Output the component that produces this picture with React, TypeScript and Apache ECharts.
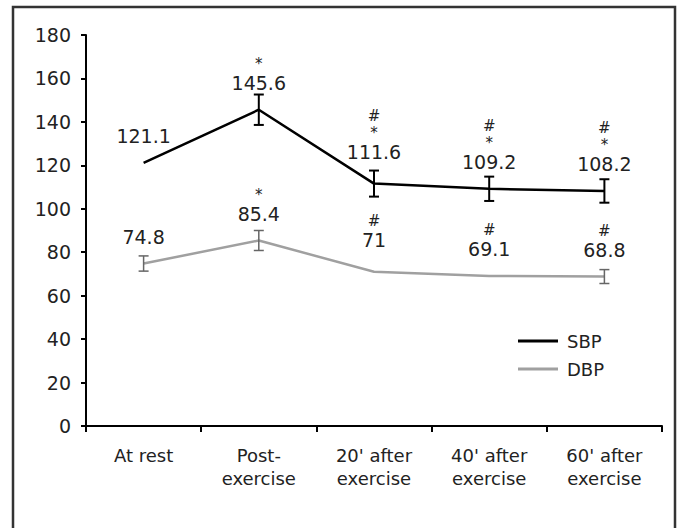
import React, { useEffect, useRef } from "react";
import * as echarts from "echarts";

const categories = ["At rest", "Post-\nexercise", "20' after\nexercise", "40' after\nexercise", "60' after\nexercise"];
const sbpValues = [121.1, 145.6, 111.6, 109.2, 108.2];
const dbpValues = [74.8, 85.4, 71, 69.1, 68.8];
const sbpMarks = ["", "*", "#\n*", "#\n*", "#\n*"];
const dbpMarks = ["", "*", "#", "#", "#"];
const sbpErr = [0, 7, 6, 5.6, 5.4];
const dbpErr = [3.5, 4.6, 0, 0, 3.2];
const yTicks = { min: 0, max: 180, interval: 20 };

const FONT = "DejaVu Sans";

function errData(values: number[], errs: number[]) {
  const out: number[][] = [];
  values.forEach((v, i) => {
    if (errs[i] > 0) out.push([i, v - errs[i], v + errs[i]]);
  });
  return out;
}

function errSeries(name: string, values: number[], errs: number[], color: string, width: number) {
  return {
    type: "custom",
    name: name + "-err",
    z: 5,
    silent: true,
    data: errData(values, errs),
    renderItem: (params: any, api: any) => {
      const x = api.value(0);
      const lo = api.coord([x, api.value(1)]);
      const hi = api.coord([x, api.value(2)]);
      const w = 5;
      const style = { stroke: color, lineWidth: width };
      return {
        type: "group",
        children: [
          { type: "line", shape: { x1: hi[0], y1: hi[1], x2: lo[0], y2: lo[1] }, style },
          { type: "line", shape: { x1: hi[0] - w, y1: hi[1], x2: hi[0] + w, y2: hi[1] }, style },
          { type: "line", shape: { x1: lo[0] - w, y1: lo[1], x2: lo[0] + w, y2: lo[1] }, style },
        ],
      };
    },
  };
}

function labelFormatter(marks: string[]) {
  return (p: any) => {
    const m = marks[p.dataIndex];
    const val = "{v|" + p.value + "}";
    if (!m) return val;
    return m.split("\n").map((s) => "{m|" + s + "}").join("\n") + "\n" + val;
  };
}

// small per-point vertical nudges of the data labels (layout only)
const labelNudge = [0, 0, -5, 0, 0];

function lineData(values: number[]) {
  return values.map((v, i) => (labelNudge[i] ? { value: v, label: { offset: [0, labelNudge[i]] } } : v));
}

export default function App() {
  const ref = useRef<HTMLDivElement>(null);
  useEffect(() => {
    if (!ref.current) return;
    const chart = echarts.init(ref.current, null, { renderer: "svg" });
    const rich = {
      v: { fontFamily: FONT, fontSize: 19, lineHeight: 21, color: "#222" },
      m: { fontFamily: FONT, fontSize: 15, lineHeight: 17, color: "#222" },
    };
    chart.setOption({
      animation: false,
      backgroundColor: "#fff",
      textStyle: { fontFamily: FONT },
      graphic: [
        {
          type: "rect",
          shape: { x: 13, y: 7, width: 662, height: 560 },
          style: { fill: "none", stroke: "#333", lineWidth: 2.5 },
          silent: true,
        },
      ],
      grid: { left: 86, right: 18, top: 35, bottom: 102 },
      legend: {
        orient: "vertical",
        left: 513,
        top: 327,
        itemWidth: 40,
        itemHeight: 3,
        itemGap: 10,
        icon: "rect",
        data: ["SBP", "DBP"],
        textStyle: { fontFamily: FONT, fontSize: 18, color: "#222", padding: [0, 0, 0, 4] },
      },
      xAxis: {
        type: "category",
        data: categories,
        boundaryGap: true,
        axisLine: { lineStyle: { color: "#000", width: 2 } },
        axisTick: { show: true, length: 6, lineStyle: { color: "#000", width: 2 } },
        axisLabel: { fontFamily: FONT, fontSize: 18, color: "#222", margin: 18, lineHeight: 23, interval: 0 },
        splitLine: { show: false },
      },
      yAxis: {
        type: "value",
        min: yTicks.min,
        max: yTicks.max,
        interval: yTicks.interval,
        axisLine: { show: true, lineStyle: { color: "#000", width: 2 } },
        axisTick: { show: true, length: 5, lineStyle: { color: "#000", width: 2 } },
        axisLabel: { fontFamily: FONT, fontSize: 19, color: "#222", margin: 15 },
        splitLine: { show: false },
      },
      series: [
        {
          name: "SBP",
          type: "line",
          data: lineData(sbpValues),
          symbol: "circle",
          symbolSize: 0,
          showSymbol: true,
          color: "#000",
          lineStyle: { color: "#000", width: 2.5 },
          z: 3,
          label: {
            show: true,
            position: "top",
            distance: 16,
            formatter: labelFormatter(sbpMarks),
            rich,
            align: "center",
          },
        },
        {
          name: "DBP",
          type: "line",
          data: lineData(dbpValues),
          symbol: "circle",
          symbolSize: 0,
          showSymbol: true,
          color: "#a0a0a0",
          lineStyle: { color: "#a0a0a0", width: 2.5 },
          z: 2,
          label: {
            show: true,
            position: "top",
            distance: 16,
            formatter: labelFormatter(dbpMarks),
            rich,
            align: "center",
          },
        },
        errSeries("SBP", sbpValues, sbpErr, "#000", 2),
        errSeries("DBP", dbpValues, dbpErr, "#666", 1.5),
      ],
    });
    return () => chart.dispose();
  }, []);
  return <div ref={ref} style={{ position: "fixed", left: 0, top: 0, width: 680, height: 528 }} />;
}
